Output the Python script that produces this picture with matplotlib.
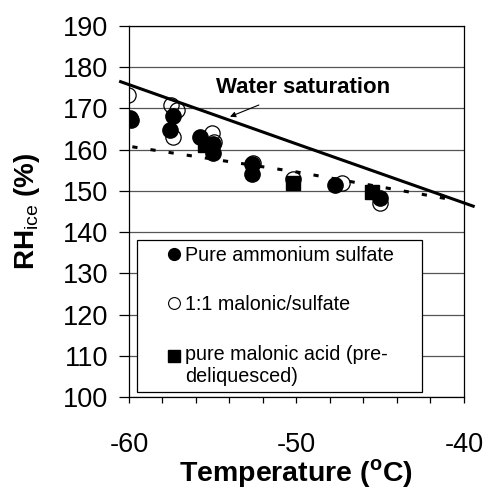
import matplotlib
matplotlib.use("Agg")
import matplotlib.pyplot as plt
from matplotlib.lines import Line2D
from matplotlib.legend_handler import HandlerLine2D
import numpy as np

plt.rcParams['font.family'] = ['Liberation Sans', 'DejaVu Sans']
plt.rcParams['mathtext.fontset'] = 'custom'
plt.rcParams['mathtext.rm'] = 'Liberation Sans'
plt.rcParams['mathtext.bf'] = 'Liberation Sans:bold'
plt.rcParams['axes.unicode_minus'] = False

# Data
as_T = [-59.9, -59.95, -57.35, -57.55, -55.76, -54.97, -54.97, -52.67, -52.67, -47.7, -45.0]
as_RH = [167.2, 167.8, 168.2, 164.8, 163.0, 161.5, 159.1, 156.6, 154.2, 151.4, 148.4]

mix_T = [-60.04, -57.49, -57.15, -57.35, -55.03, -54.9, -52.6, -50.2, -47.3, -45.0]
mix_RH = [173.3, 170.8, 169.6, 163.1, 164.0, 161.8, 156.8, 152.8, 152.0, 147.0]

ma_T = [-55.46, -50.19, -45.5]
ma_RH = [161.1, 151.8, 149.8]

ws_T = [-60.5, -50.0, -39.45]
ws_RH = [176.5, 161.4, 146.3]

fit_T = [-59.8, -50.0, -40.6]
fit_RH = [160.7, 154.6, 147.8]

labels = ['Pure ammonium sulfate', '1:1 malonic/sulfate',
          'pure malonic acid (pre-\ndeliquesced)']


class ShiftHandler(HandlerLine2D):
    def __init__(self, dy=0.0, **kw):
        super().__init__(**kw)
        self.dy = dy

    def create_artists(self, legend, orig_handle, xdescent, ydescent,
                       width, height, fontsize, trans):
        return super().create_artists(legend, orig_handle, xdescent,
                                      ydescent - self.dy, width, height,
                                      fontsize, trans)


fig = plt.figure(figsize=(4.88, 4.91), dpi=100)
ax = fig.add_axes([0.2643, 0.1914, 0.6865, 0.7556])

ax.set_xlim(-60, -40)
ax.set_ylim(100, 190)
ax.set_yticks(np.arange(100, 191, 10))
ax.set_xticks([-60, -50, -40])
ax.set_xticks(np.arange(-60, -39, 2), minor=True)
ax.grid(axis='y', color='#555555', linewidth=0.9)
ax.set_axisbelow(True)

for s in ax.spines.values():
    s.set_color('black')
    s.set_linewidth(0.9)

ax.tick_params(axis='y', which='major', direction='out', length=7, width=0.9,
               pad=8, labelsize=19.5)
ax.tick_params(axis='x', which='major', direction='out', length=4.5, width=0.9,
               pad=21, labelsize=19.5)
ax.tick_params(axis='x', which='minor', direction='out', length=4.5, width=0.9)

ax.plot(ws_T, ws_RH, color='black', linewidth=2.2, clip_on=False, zorder=3)
ax.plot(fit_T, fit_RH, color='black', linewidth=2.2, linestyle=(0, (1.7, 4.3)),
        dash_capstyle='butt', zorder=3)

h2, = ax.plot(mix_T, mix_RH, linestyle='none', marker='o', markersize=11,
              markerfacecolor='none', markeredgecolor='black',
              markeredgewidth=0.9, zorder=4)
h3, = ax.plot(ma_T, ma_RH, linestyle='none', marker='s', markersize=10,
              color='black', zorder=5)
h1, = ax.plot(as_T, as_RH, linestyle='none', marker='o', markersize=11,
              color='black', zorder=6)

ax.annotate('Water saturation', xy=(-53.97, 168.0), xytext=(-49.6, 175.2),
            ha='center', va='center', fontsize=16, fontweight='bold',
            arrowprops=dict(arrowstyle='-|>', color='black', lw=0.8,
                            mutation_scale=8, shrinkA=9, shrinkB=0))

lh = [Line2D([], [], linestyle='none', marker='o', markersize=8.5, color='black'),
      Line2D([], [], linestyle='none', marker='o', markersize=8.5,
             markerfacecolor='none', markeredgecolor='black', markeredgewidth=0.8),
      Line2D([], [], linestyle='none', marker='s', markersize=8, color='black')]
leg = ax.legend(lh, labels, loc='lower left', bbox_to_anchor=(0.023, 0.014, 0.853, 0.41),
                mode='expand', fontsize=14.2, frameon=True, fancybox=False,
                edgecolor='black', framealpha=1, labelspacing=1.55,
                handlelength=3.2, handletextpad=-1.05, borderpad=0.3,
                borderaxespad=0, numpoints=1,
                handler_map={lh[2]: ShiftHandler(dy=15)})
leg.get_frame().set_linewidth(0.9)
leg.set_zorder(10)

ax.set_ylabel(r'RH$_{\mathrm{ice}}$ (%)', fontsize=20, fontweight='bold', labelpad=15)
ax.set_xlabel(r'Temperature ($^{\mathbf{o}}$C)', fontsize=20.5, fontweight='bold', labelpad=-1)

fig.savefig('out.png', dpi=100)
